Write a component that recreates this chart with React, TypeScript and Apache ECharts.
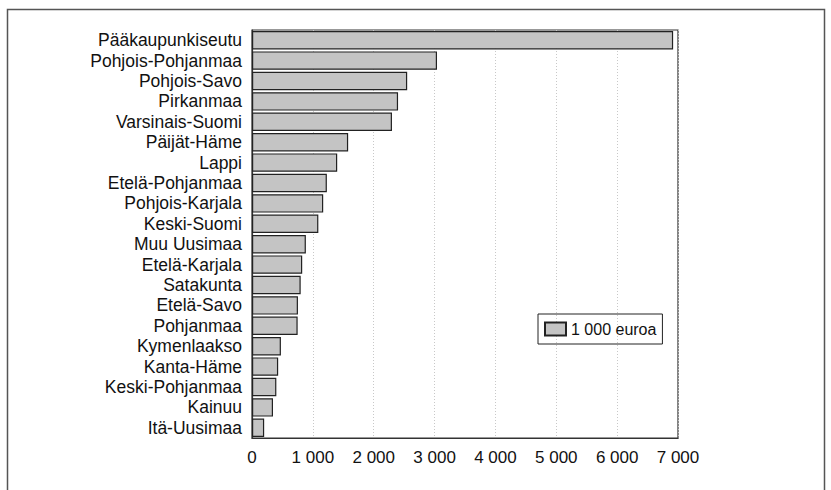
import React, { useEffect, useRef } from "react";
import * as echarts from "echarts";

const categories = [
  "Pääkaupunkiseutu",
  "Pohjois-Pohjanmaa",
  "Pohjois-Savo",
  "Pirkanmaa",
  "Varsinais-Suomi",
  "Päijät-Häme",
  "Lappi",
  "Etelä-Pohjanmaa",
  "Pohjois-Karjala",
  "Keski-Suomi",
  "Muu Uusimaa",
  "Etelä-Karjala",
  "Satakunta",
  "Etelä-Savo",
  "Pohjanmaa",
  "Kymenlaakso",
  "Kanta-Häme",
  "Keski-Pohjanmaa",
  "Kainuu",
  "Itä-Uusimaa",
];

const values = [
  6920, 3040, 2550, 2400, 2300, 1580, 1400, 1230, 1170, 1090, 885, 825, 800,
  755, 750, 475, 430, 400, 345, 200,
];

const seriesName = "1 000 euroa";
const xTicks = [0, 1000, 2000, 3000, 4000, 5000, 6000, 7000];

const fmt = (v: number) =>
  String(v).replace(/\B(?=(\d{3})+(?!\d))/g, " ");

export default function App() {
  const ref = useRef<HTMLDivElement>(null);
  useEffect(() => {
    if (!ref.current) return;
    const chart = echarts.init(ref.current, null, { renderer: "svg" });
    const font = "'Liberation Sans', Arial, Helvetica, sans-serif";
    chart.setOption({
      animation: false,
      backgroundColor: "#ffffff",
      textStyle: { fontFamily: font },
      graphic: [
        {
          type: "rect",
          shape: { x: 7.5, y: 9.5, width: 817, height: 500 },
          style: { fill: "none", stroke: "#555", lineWidth: 1.5 },
          silent: true,
        },
      ],
      grid: {
        left: 252,
        top: 30,
        right: 153,
        bottom: 52,
        show: true,
        borderColor: "#333",
        borderWidth: 1.2,
        containLabel: false,
      },
      legend: {
        left: 538,
        top: 314,
        padding: [7, 6, 7, 6],
        borderColor: "#222",
        borderWidth: 1,
        itemWidth: 21,
        itemHeight: 13,
        itemGap: 0,
        icon: "rect",
        textStyle: {
          fontFamily: font,
          fontSize: 16,
          color: "#111",
        },
        data: [seriesName],
      },
      xAxis: {
        type: "value",
        min: xTicks[0],
        max: xTicks[xTicks.length - 1],
        interval: 1000,
        axisLine: { show: true, lineStyle: { color: "#333", width: 1.2 } },
        axisTick: { show: false },
        axisLabel: {
          margin: 11,
          fontSize: 17,
          color: "#111",
          fontFamily: font,
          formatter: (v: number) => fmt(v),
        },
        splitLine: {
          show: true,
          lineStyle: { color: "#c8c8c8", type: [1, 2], width: 1 },
        },
      },
      yAxis: {
        type: "category",
        data: categories,
        inverse: true,
        axisLine: { show: true, lineStyle: { color: "#333", width: 1.2 } },
        axisTick: { show: false },
        axisLabel: {
          interval: 0,
          margin: 10,
          fontSize: 17.5,
          color: "#111",
          fontFamily: font,
        },
        splitLine: { show: false },
      },
      series: [
        {
          name: seriesName,
          type: "bar",
          data: values,
          barCategoryGap: "10%",
          itemStyle: {
            color: "#c4c4c4",
            borderColor: "#222",
            borderWidth: 1.2,
          },
        },
      ],
    });
    return () => chart.dispose();
  }, []);
  return (
    <div
      ref={ref}
      style={{ position: "fixed", left: 0, top: 0, width: 831, height: 490 }}
    />
  );
}
